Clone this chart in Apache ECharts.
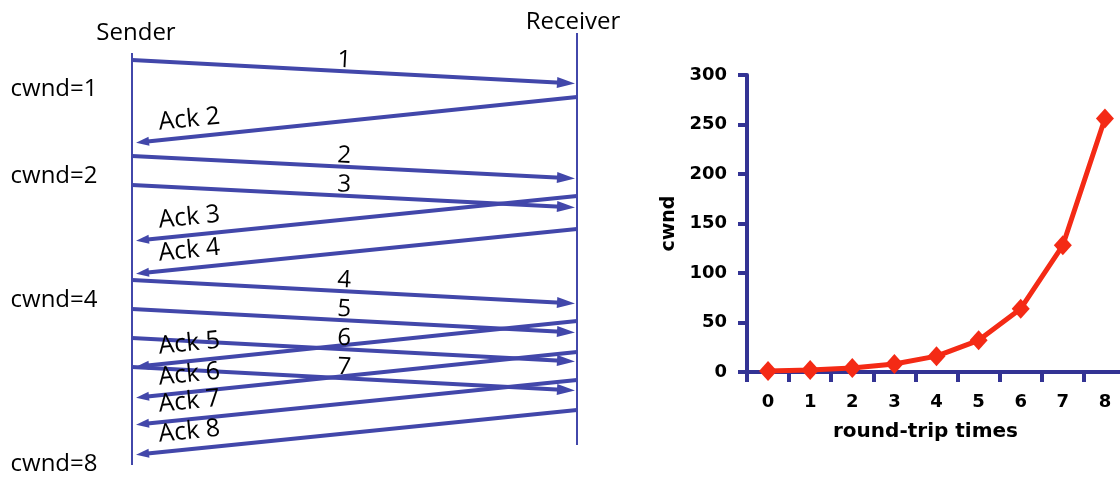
<!DOCTYPE html>
<html><head><meta charset="utf-8">
<script src="https://cdn.jsdelivr.net/npm/echarts@6/dist/echarts.min.js"></script>
<style>html,body{margin:0;padding:0;background:#fff}#c{width:1120px;height:477px}</style>
</head><body><div id="c"></div>
<script>
// ---------- Left: slow-start sequence diagram (time runs downward) ----------
const senderSpan = [53, 465];
const receiverSpan = [33, 445];
const segmentNames = ['1', '2', '3', '4', '5', '6', '7'];
const segmentSendTimes = [60, 156, 185, 280, 309, 338, 367];
const segmentRecvTimes = [83, 178, 207, 303, 332, 361, 390];
const ackNames = ['Ack 2', 'Ack 3', 'Ack 4', 'Ack 5', 'Ack 6', 'Ack 7', 'Ack 8'];
const ackSendTimes = [97, 196, 229, 321, 352, 380, 410];
const ackRecvTimes = [142, 240, 273, 366, 397, 424, 454];
const cwndTimes = [89, 176, 300, 464];
const cwndValues = [1, 2, 4, 8];

// ---------- Right: cwnd vs round-trip times ----------
const rttCategories = ['0', '1', '2', '3', '4', '5', '6', '7', '8'];
const cwndGrowth = [1, 2, 4, 8, 16, 32, 64, 128, 256];
const cwndAxisMin = 0, cwndAxisMax = 300, cwndAxisStep = 50;

// ---------- styles ----------
const BLUE = '#4247AA';
const NAVY = '#333394';
const RED = '#F42A15';
const DIAG_FONT = '"Open Sans", "Lato", sans-serif';
const CHART_FONT = '"DejaVu Sans", sans-serif';
const SENDER = 0, RECEIVER = 1;
const DIAG_LEFT = 132, DIAG_RIGHT = 577, DIAG_W = DIAG_RIGHT - DIAG_LEFT;
const segHead = [11, 18], ackHead = [9, 13];
// the triangle is centred on the line end, so pull the end back by half the head length
const dataEndPull = (2 + segHead[1] / 2) / DIAG_W;
const ackEndPull = (4 + ackHead[1] / 2) / DIAG_W;

const segData = segmentNames.map((n, i) => ({
  name: n,
  coords: [[SENDER, segmentSendTimes[i]], [RECEIVER - dataEndPull, segmentRecvTimes[i]]]
}));
const ackData = ackNames.map((n, i) => ({
  name: n,
  coords: [[RECEIVER, ackSendTimes[i]], [SENDER + ackEndPull, ackRecvTimes[i]]]
}));
const timelineData = [
  { name: 'Sender', coords: [[SENDER, senderSpan[0]], [SENDER, senderSpan[1]]], label: { distance: 8, offset: [4, 0] } },
  { name: 'Receiver', coords: [[RECEIVER, receiverSpan[0]], [RECEIVER, receiverSpan[1]]], label: { distance: -1, offset: [-4, 0] } }
];
const cwndMarks = cwndTimes.map((t, i) => [SENDER, t, cwndValues[i]]);

const chart = echarts.init(document.getElementById('c'), null, { renderer: 'canvas' });
chart.setOption({
  animation: false,
  backgroundColor: '#fff',
  grid: [
    { left: DIAG_LEFT, right: 1120 - DIAG_RIGHT, top: 0, bottom: 0, containLabel: false, outerBoundsMode: 'none' },
    { left: 747, right: -6, top: 75, bottom: 105, containLabel: false, outerBoundsMode: 'none' }
  ],
  xAxis: [
    { gridIndex: 0, type: 'value', min: 0, max: 1, show: false },
    {
      gridIndex: 1, type: 'category', data: rttCategories, boundaryGap: true,
      axisLine: { show: true, lineStyle: { color: NAVY, width: 4 } },
      axisTick: { show: true, length: 10, lineStyle: { color: NAVY, width: 4 } },
      axisLabel: { color: '#000', fontFamily: CHART_FONT, fontWeight: 'bold', fontSize: 18, margin: 21 },
      splitLine: { show: false },
      name: 'round-trip times', nameLocation: 'middle', nameGap: 50,
      nameTextStyle: { color: '#000', fontFamily: CHART_FONT, fontWeight: 'bold', fontSize: 20, padding: [0, 22, 0, 0] }
    }
  ],
  yAxis: [
    { gridIndex: 0, type: 'value', min: 0, max: 477, inverse: true, show: false },
    {
      gridIndex: 1, type: 'value', min: cwndAxisMin, max: cwndAxisMax, interval: cwndAxisStep,
      axisLine: { show: true, lineStyle: { color: NAVY, width: 4 } },
      axisTick: { show: true, length: 9, lineStyle: { color: NAVY, width: 4 } },
      axisLabel: { color: '#000', fontFamily: CHART_FONT, fontWeight: 'bold', fontSize: 18, margin: 20 },
      splitLine: { show: false },
      name: 'cwnd', nameLocation: 'middle', nameGap: 68, nameRotate: 90,
      nameTextStyle: { color: '#000', fontFamily: CHART_FONT, fontWeight: 'bold', fontSize: 19 }
    }
  ],
  series: [
    {
      type: 'lines', coordinateSystem: 'cartesian2d', xAxisIndex: 0, yAxisIndex: 0, clip: false,
      data: timelineData, symbol: ['none', 'none'],
      lineStyle: { color: BLUE, width: 2, opacity: 1 },
      label: { show: true, position: 'start', formatter: p => p.name, color: '#000', fontFamily: DIAG_FONT, fontSize: 24 },
      silent: true
    },
    {
      type: 'lines', coordinateSystem: 'cartesian2d', xAxisIndex: 0, yAxisIndex: 0, clip: false,
      data: segData, symbol: ['none', 'triangle'], symbolSize: [1, segHead],
      lineStyle: { color: BLUE, width: 3.8, opacity: 1 },
      itemStyle: { color: BLUE },
      label: { show: true, position: 'insideStartTop', distance: [205, -1], formatter: p => p.name, color: '#000', fontFamily: DIAG_FONT, fontSize: 24 },
      silent: true
    },
    {
      type: 'lines', coordinateSystem: 'cartesian2d', xAxisIndex: 0, yAxisIndex: 0, clip: false,
      data: ackData, symbol: ['none', 'triangle'], symbolSize: [1, ackHead],
      lineStyle: { color: BLUE, width: 3.8, opacity: 1 },
      itemStyle: { color: BLUE },
      label: { show: true, position: 'insideEndTop', distance: [18, 5], formatter: p => p.name, color: '#000', fontFamily: DIAG_FONT, fontSize: 25 },
      silent: true
    },
    {
      type: 'scatter', xAxisIndex: 0, yAxisIndex: 0, data: cwndMarks, symbol: 'circle', symbolSize: 1, clip: false,
      itemStyle: { color: 'rgba(255,255,255,0)', opacity: 1 },
      label: { show: true, position: 'left', distance: 34, formatter: p => 'cwnd=' + p.data[2], color: '#000', opacity: 1, fontFamily: DIAG_FONT, fontSize: 24 },
      silent: true
    },
    {
      type: 'line', xAxisIndex: 1, yAxisIndex: 1, data: cwndGrowth,
      symbol: 'diamond', symbolSize: [18, 20], showAllSymbol: true,
      lineStyle: { color: RED, width: 5 }, itemStyle: { color: RED },
      z: 5
    }
  ]
});
</script>
</body></html>
